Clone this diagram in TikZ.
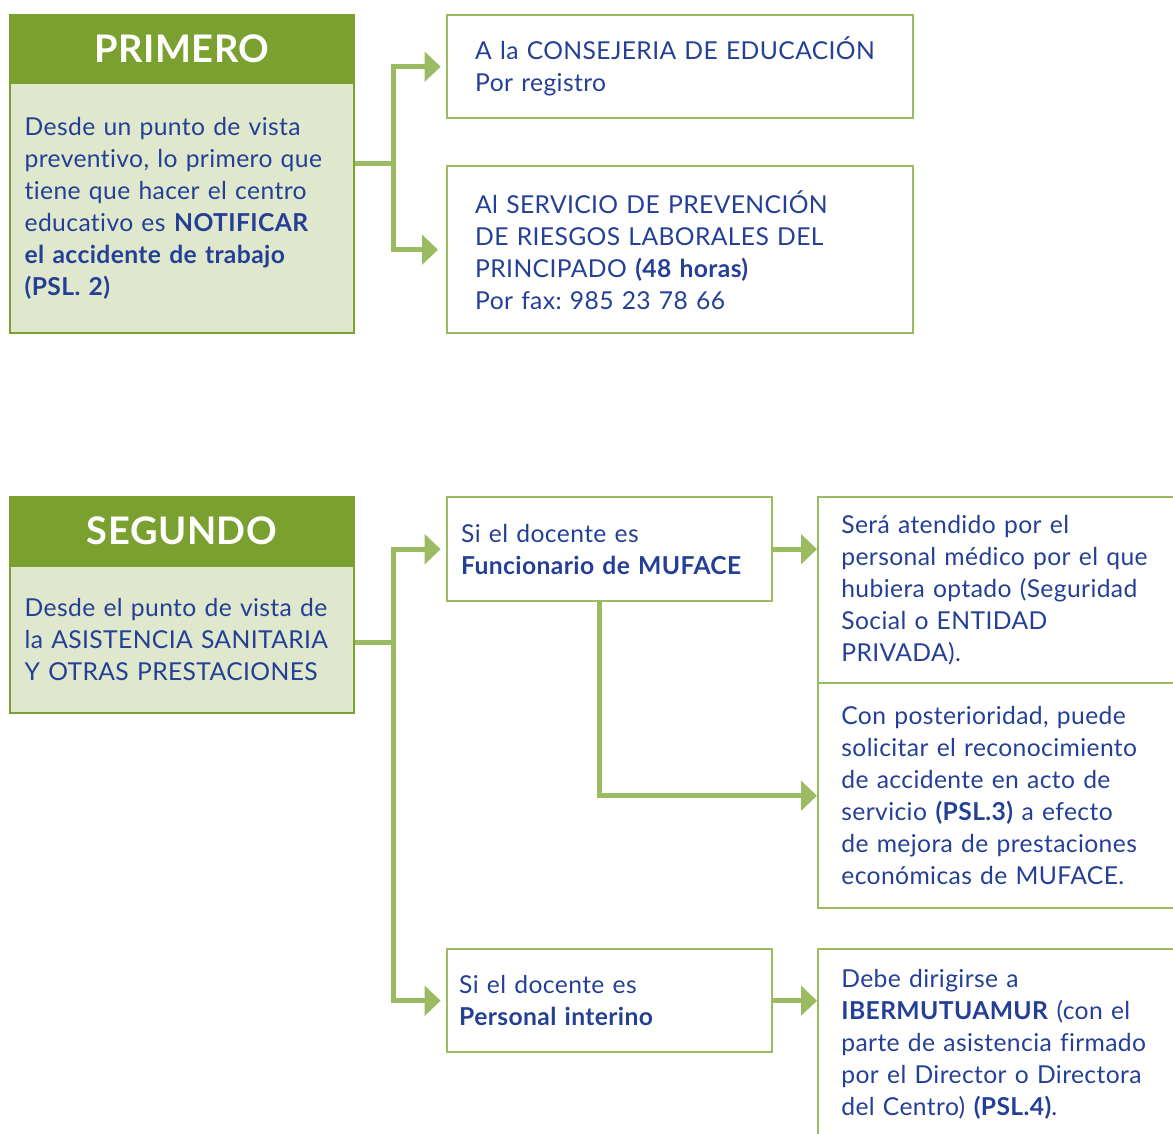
\documentclass[tikz,border=0pt]{standalone}
\usepackage{fontspec}
\setmainfont{Lato}[LetterSpace=1.5, Ligatures=NoCommon]
\usetikzlibrary{arrows.meta}
\frenchspacing

\definecolor{hdrgreen}{RGB}{122,161,48}
\definecolor{paleg}{RGB}{223,231,204}
\definecolor{lineg}{RGB}{155,187,99}
\definecolor{txtblue}{RGB}{36,64,150}
\newcommand\bodyfont{\fontsize{18.5}{24}\selectfont}

\tikzset{
  hdr/.style={fill=hdrgreen, draw=hdrgreen, line width=1.5pt, text=white,
    font=\fontsize{28.5}{32}\selectfont\bfseries, minimum width=258pt,
    minimum height=51pt, anchor=north west, inner sep=0pt},
  body/.style={fill=paleg, draw=hdrgreen, line width=1.5pt, text=txtblue,
    align=left, anchor=north west, inner xsep=11pt, inner ysep=0pt,
    text width=236pt, minimum width=258pt, font=\bodyfont},
  info/.style={draw=lineg, line width=1.8pt, text=txtblue, align=left,
    anchor=north west, inner ysep=0pt, font=\bodyfont},
  link/.style={draw=lineg, line width=3.75pt},
  tip/.style={link, -{Triangle[length=12pt,width=22pt]}},
}

\begin{document}
\begin{tikzpicture}[x=0.75pt, y=-0.75pt]
  \useasboundingbox (0,0) rectangle (1173,1133);
  \clip (0,0) rectangle (1173,1133);

  % PRIMERO
  \node[hdr] (prim) at (9,14) {PRIMERO};
  \node[body, minimum height=187.5pt] (primtxt) at (9,82)
    {Desde un punto de vista\\
     preventivo, lo primero que\\
     tiene que hacer el centro\\
     educativo es \textbf{NOTIFICAR}\\
     \textbf{el accidente de trabajo}\\
     \textbf{(PSL. 2)}};
  \node[info, minimum width=349.5pt, minimum height=77.25pt, inner xsep=21pt,
    text width=307.5pt] (a1) at (446,14)
    {A la CONSEJERIA DE EDUCACIÓN\\
     Por registro};
  \node[info, minimum width=349.5pt, minimum height=125.25pt, inner xsep=21pt,
    text width=307.5pt] (a2) at (446,165)
    {Al SERVICIO DE PREVENCIÓN\\
     DE RIESGOS LABORALES DEL\\
     PRINCIPADO \textbf{(48 horas)}\\
     Por fax: 985 23 78 66};

  \coordinate (j1) at (393,163);
  \draw[link] (primtxt.east |- j1) -- (j1);
  \draw[tip, shorten >=4pt] (j1) |- (a1.west);
  \draw[tip, shorten >=6pt] (j1) |- (a2.west);

  % SEGUNDO
  \node[hdr] (seg) at (9,496) {SEGUNDO};
  \node[body, minimum height=110.25pt] (segtxt) at (9,565)
    {Desde el punto de vista de\\
     la ASISTENCIA SANITARIA\\
     Y OTRAS PRESTACIONES};
  \node[info, minimum width=243.75pt, minimum height=78pt, inner xsep=10.5pt,
    text width=222.75pt] (b1) at (446,496)
    {Si el docente es\\
     \textbf{Funcionario de MUFACE}};
  \node[info, minimum width=243.75pt, minimum height=77.25pt, inner xsep=9pt,
    text width=225.75pt] (b2) at (446,948)
    {Si el docente es\\
     \textbf{Personal interino}};
  \node[info, minimum width=279.75pt, minimum height=139.5pt, inner xsep=17.25pt,
    text width=245pt] (c1) at (817,496)
    {Será atendido por el\\
     personal médico por el que\\
     hubiera optado (Seguridad\\
     Social o ENTIDAD\\
     PRIVADA).};
  \node[info, minimum width=279.75pt, minimum height=168.75pt, inner xsep=17.25pt,
    text width=245pt] (c2) at (817,682)
    {Con posterioridad, puede\\
     solicitar el reconocimiento\\
     de accidente en acto de\\
     servicio \textbf{(PSL.3)} a efecto\\
     de mejora de prestaciones\\
     económicas de MUFACE.};
  \node[info, minimum width=279.75pt, minimum height=142.5pt, inner xsep=17.25pt,
    text width=245pt] (c3) at (817,948)
    {Debe dirigirse a\\
     \textbf{IBERMUTUAMUR} (con el\\
     parte de asistencia firmado\\
     por el Director o Directora\\
     del Centro) \textbf{(PSL.4)}.};

  \coordinate (j2) at (393,642);
  \coordinate (j3) at (599,600);
  \draw[link] (segtxt.east |- j2) -- (j2);
  \draw[tip, shorten >=4pt] (j2) |- (b1.west);
  \draw[tip, shorten >=4pt] (j2) |- (b2.west);
  \draw[tip] (b1.east) -- (c1.west |- b1.east);
  \draw[tip] (b2.east) -- (c3.west |- b2.east);
  \draw[tip] (j3 |- b1.south) |- (c2.west);
\end{tikzpicture}
\end{document}
